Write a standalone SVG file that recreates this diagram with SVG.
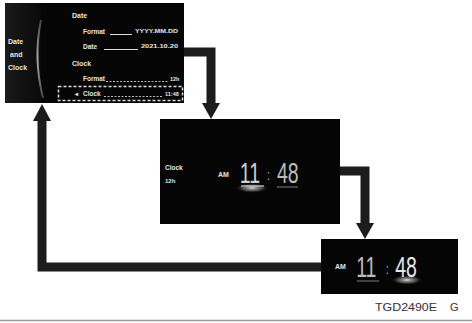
<svg xmlns="http://www.w3.org/2000/svg" width="472" height="323" viewBox="0 0 472 323">
<defs>
<style>
.scr{fill:#050505}
.t{font-family:"Liberation Sans",Arial,sans-serif;fill:#e6e6e6;font-weight:bold}
.s{font-size:7px}
.big{font-family:"Liberation Sans",sans-serif;fill:#d0d0d0;font-weight:normal;font-size:30px}
.con{fill:none;stroke:#1c1c1c;stroke-width:9}
.ah{fill:#1c1c1c}
.ln{stroke:#dcdcdc;stroke-width:1}
.dot{stroke:#bbb;stroke-width:1;stroke-dasharray:2 1.5}
</style>
<radialGradient id="glow" cx="0.5" cy="0.5" r="0.5">
<stop offset="0" stop-color="#f0f0f0" stop-opacity="0.9"/>
<stop offset="0.6" stop-color="#888" stop-opacity="0.5"/>
<stop offset="1" stop-color="#000" stop-opacity="0"/>
</radialGradient>
<linearGradient id="arc" x1="0" y1="0" x2="0" y2="1">
<stop offset="0" stop-color="#444"/>
<stop offset="0.5" stop-color="#aaa"/>
<stop offset="1" stop-color="#444"/>
</linearGradient>
<linearGradient id="side" x1="0" y1="0" x2="1" y2="0">
<stop offset="0" stop-color="#1a1a1a"/>
<stop offset="1" stop-color="#0a0a0a"/>
</linearGradient>
</defs>
<rect width="472" height="323" fill="#fff"/>
<line x1="0" y1="320.5" x2="472" y2="320.5" stroke="#999" stroke-width="1.5"/>

<g id="connectors">
<path class="con" d="M183,52 H211 V104"/>
<polygon class="ah" points="202,103 220,103 211,119"/>
<path class="con" d="M340,171 H365 V224"/>
<polygon class="ah" points="356,223 374,223 365,239"/>
<path class="con" d="M321,267 H42 V120"/>
<polygon class="ah" points="33,121 51,121 42,104"/>
</g>

<g id="screen1">
<rect class="scr" x="5" y="3" width="179" height="100"/>
<rect x="5" y="3" width="36" height="100" fill="url(#side)"/>
<path d="M41,20 Q33,58 43,98" fill="none" stroke="url(#arc)" stroke-width="2"/>
<text class="t s" x="8" y="44">Date</text>
<text class="t s" x="10" y="57">and</text>
<text class="t s" x="8" y="70">Clock</text>
<text class="t s" x="72" y="18">Date</text>
<text class="t" x="83" y="34" font-size="6.5">Format</text>
<line class="ln" x1="110" y1="34.5" x2="132" y2="34.5"/>
<text class="t" x="135" y="33" font-size="5" textLength="43" lengthAdjust="spacingAndGlyphs">YYYY.MM.DD</text>
<text class="t" x="83" y="49" font-size="6.5">Date</text>
<line class="ln" x1="104" y1="49.5" x2="138" y2="49.5"/>
<text class="t" x="141" y="48" font-size="5" textLength="37" lengthAdjust="spacingAndGlyphs">2021.10.20</text>
<text class="t s" x="72" y="66">Clock</text>
<text class="t" x="83" y="81" font-size="6.5">Format</text>
<line class="dot" x1="106" y1="81.5" x2="168" y2="81.5"/>
<text class="t" x="170" y="81" font-size="5.5">12h</text>
<rect x="58.5" y="86.5" width="124" height="14" fill="none" stroke="#ddd" stroke-width="1.5" stroke-dasharray="3 2"/>
<text class="t" x="75" y="96" font-size="6">◂</text>
<text class="t" x="83" y="96" font-size="6.5">Clock</text>
<line class="dot" x1="104" y1="96.5" x2="163" y2="96.5"/>
<text class="t" x="165" y="96" font-size="5.5">11:48</text>
</g>

<g id="screen2">
<rect class="scr" x="160" y="119" width="180" height="105"/>
<text class="t" x="165" y="170" font-size="6.5">Clock</text>
<text class="t" x="165" y="183" font-size="6">12h</text>
<text class="t" x="218" y="177" font-size="7">AM</text>
<ellipse cx="252" cy="188" rx="17" ry="5" fill="url(#glow)"/>
<text class="big" transform="scale(0.65,1)" y="183"><tspan x="369">11</tspan><tspan x="411" font-size="14" dy="-3">:</tspan><tspan x="426" dy="3" fill="#bbb">48</tspan></text>
<line x1="241" y1="186" x2="264" y2="186" stroke="#eee" stroke-width="1"/>
<line x1="277" y1="187" x2="298" y2="187" stroke="#999" stroke-width="0.8"/>
</g>

<g id="screen3">
<rect class="scr" x="321" y="239" width="137" height="55"/>
<text class="t" x="335" y="269" font-size="7">AM</text>
<ellipse cx="407" cy="280" rx="16" ry="5" fill="url(#glow)"/>
<text class="big" transform="scale(0.65,1)" y="277"><tspan x="548" fill="#bbb">11</tspan><tspan x="594" font-size="14" dy="-3">:</tspan><tspan x="608" dy="3" fill="#e6e6e6">48</tspan></text>
<line x1="357" y1="281" x2="379" y2="281" stroke="#999" stroke-width="0.8"/>
</g>

<g id="label">
<text x="375" y="311" font-family="Liberation Sans,Arial,sans-serif" font-size="11" fill="#333" textLength="62" lengthAdjust="spacingAndGlyphs">TGD2490E</text>
<text x="450" y="311" font-family="Liberation Sans,Arial,sans-serif" font-size="11" fill="#333">G</text>
</g>
</svg>
